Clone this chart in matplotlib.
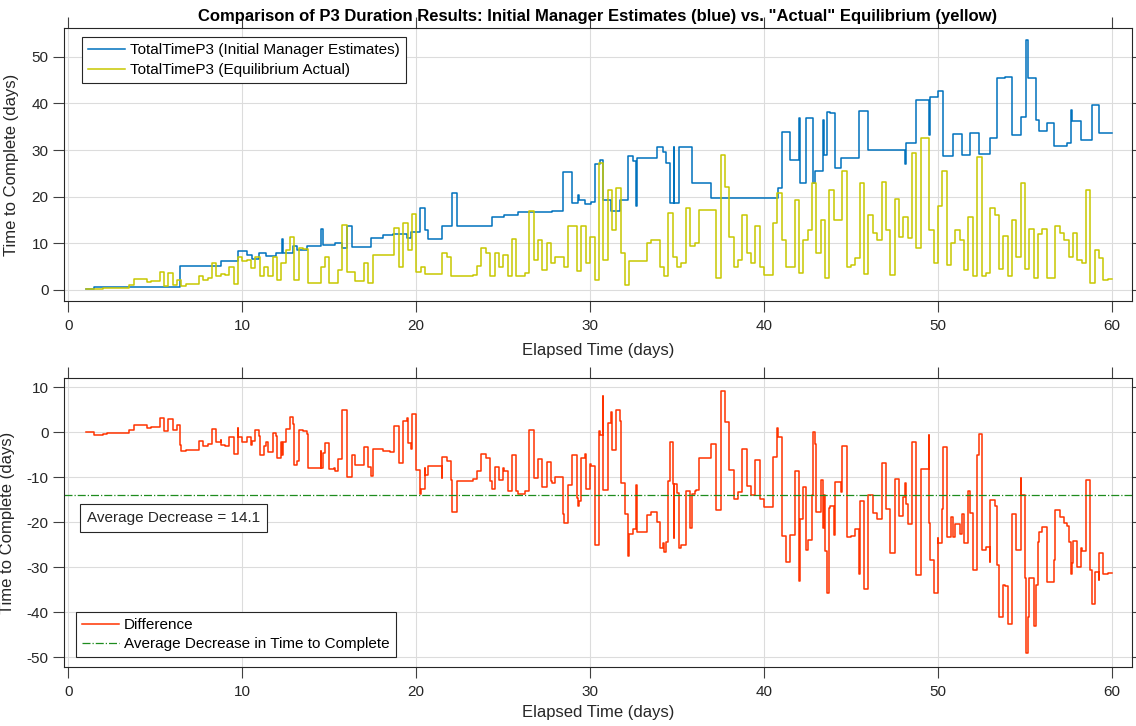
import numpy as np
import matplotlib
matplotlib.use("Agg")
import matplotlib.pyplot as plt

plt.rcParams['font.family'] = ['Liberation Sans', 'DejaVu Sans']
plt.rcParams['axes.unicode_minus'] = False

# ---- Data -------------------------------------------------------------
# Initial manager estimates (blue): step change times and values
blue_t = [1.0, 1.45, 6.4, 8.78, 9.77, 10.27, 10.56, 10.96, 11.36, 11.95, 12.31, 12.35,
          12.94, 13.14, 13.74, 14.53, 14.63, 15.32, 15.72, 16.02, 16.31, 17.40, 18.10,
          18.69, 19.48, 19.68, 20.24, 20.48, 20.67, 21.47, 22.06, 22.32, 24.34, 25.03,
          25.83, 26.52, 27.81, 28.44, 28.94, 29.30, 29.34, 29.73, 30.04, 30.25, 30.57,
          30.74, 31.21, 31.73, 32.16, 32.47, 32.66, 32.70, 33.85, 34.16, 34.38, 34.59,
          34.80, 34.83, 35.12, 35.86, 36.07, 36.96, 40.82, 41.04, 41.46, 41.99, 42.09,
          42.41, 42.83, 42.90, 43.36, 43.47, 43.64, 43.78, 44.06, 44.42, 45.48, 46.00,
          48.12, 48.16, 48.75, 49.49, 49.55, 50.02, 50.27, 50.87, 51.40, 51.82, 52.35,
          52.98, 53.40, 53.83, 54.25, 54.78, 55.03, 55.16, 55.62, 55.83, 56.26, 56.68,
          57.42, 57.63, 57.70, 58.22, 58.86, 59.26, 60.0]
blue_v = [0.2, 0.7, 5.1, 6.2, 8.3, 7.4, 6.7, 8.0, 7.3, 7.9, 10.9, 7.9,
          9.5, 8.6, 9.3, 13.0, 9.6, 10.1, 8.9, 13.8, 9.1, 11.2, 11.8,
          11.9, 11.1, 12.4, 17.6, 12.9, 11.0, 13.6, 20.7, 13.7, 15.6, 16.1,
          16.6, 16.6, 17.0, 25.3, 18.7, 20.4, 19.3, 18.4, 18.9, 27.1, 27.9,
          19.3, 16.9, 19.3, 28.7, 27.6, 17.9, 28.4, 30.7, 29.6, 27.3, 18.6,
          30.7, 18.6, 30.7, 23.0, 22.9, 19.8, 21.8, 33.9, 27.9, 36.8, 22.9,
          36.8, 22.9, 25.6, 36.4, 28.9, 38.2, 37.9, 26.1, 28.4, 38.4, 30.1,
          27.1, 31.6, 40.7, 33.2, 41.4, 42.6, 28.8, 33.4, 28.9, 33.6, 29.1,
          32.5, 45.5, 45.7, 33.2, 37.0, 53.6, 45.5, 36.4, 34.1, 35.9, 30.9,
          31.6, 38.7, 36.3, 32.1, 39.6, 33.6, 33.6]

# Equilibrium actual (yellow): values every quarter day from day 1 to day 60
yellow_start, yellow_step = 1.0, 0.25
yellow_v = [
    0.1, 0.1, 0.1, 0.1,      # day 1
    0.3, 0.4, 0.4, 0.4,      # day 2
    0.4, 0.4, 1.1, 2.3,      # day 3
    2.3, 2.3, 1.6, 1.8,      # day 4
    1.8, 3.9, 0.9, 3.6,      # day 5
    1.1, 2.2, 0.9, 1.2,      # day 6
    1.2, 1.2, 3.0, 2.1,      # day 7
    2.5, 5.7, 2.9, 3.4,      # day 8
    3.2, 5.0, 1.3, 7.1,      # day 9
    6.1, 6.3, 4.6, 7.1,      # day 10
    2.9, 5.0, 2.9, 7.1,      # day 11
    2.1, 5.7, 8.6, 11.3,     # day 12
    2.1, 9.0, 8.8, 1.4,      # day 13
    1.4, 1.4, 5.0, 7.1,      # day 14
    1.4, 1.5, 4.2, 13.9,     # day 15
    3.9, 3.9, 1.8, 1.8,      # day 16
    5.7, 1.4, 7.5, 7.5,      # day 17
    7.5, 7.5, 7.4, 13.2,     # day 18
    5.0, 14.3, 8.6, 16.3,    # day 19
    3.9, 5.0, 3.4, 3.4,      # day 20
    3.4, 3.4, 8.0, 7.1,      # day 21
    2.9, 2.9, 2.9, 2.9,      # day 22
    2.9, 3.2, 5.1, 8.9,      # day 23
    7.9, 2.9, 7.9, 5.0,      # day 24
    7.5, 2.9, 10.9, 2.9,     # day 25
    2.9, 3.6, 17.0, 6.4,     # day 26
    10.7, 4.3, 10.0, 5.7,    # day 27
    7.1, 7.1, 5.0, 13.6,     # day 28
    13.6, 4.0, 13.6, 5.7,    # day 29
    11.4, 2.1, 27.3, 6.4,    # day 30
    21.4, 12.9, 21.8, 7.9,   # day 31
    1.1, 6.1, 6.1, 6.1,      # day 32
    6.1, 10.0, 10.7, 10.7,   # day 33
    5.0, 2.9, 16.4, 7.1,     # day 34
    5.0, 5.7, 17.5, 9.3,     # day 35
    10.0, 17.1, 17.1, 17.1,  # day 36
    17.1, 2.5, 28.9, 22.1,   # day 37
    11.4, 5.0, 6.4, 16.1,    # day 38
    7.9, 5.7, 13.6, 5.0,     # day 39
    3.2, 3.2, 14.3, 20.7,    # day 40
    10.7, 5.0, 5.0, 19.3,    # day 41
    3.6, 10.7, 12.9, 22.9,   # day 42
    7.9, 15.0, 2.5, 21.4,    # day 43
    15.0, 15.0, 25.4, 5.0,   # day 44
    5.4, 6.8, 23.0, 3.5,     # day 45
    16.1, 12.1, 10.7, 23.2,  # day 46
    12.9, 3.2, 19.6, 11.4,   # day 47
    15.7, 11.1, 29.3, 8.9,   # day 48
    32.5, 32.5, 12.9, 5.7,   # day 49
    17.9, 25.4, 5.4, 10.0,   # day 50
    12.9, 10.7, 4.3, 15.7,   # day 51
    2.9, 28.6, 2.9, 3.6,     # day 52
    17.5, 16.0, 4.5, 11.5,   # day 53
    3.0, 15.0, 7.0, 23.0,    # day 54
    4.5, 13.0, 2.5, 12.0,    # day 55
    13.0, 2.5, 2.5, 13.6,    # day 56
    12.1, 10.7, 7.1, 12.1,   # day 57
    6.4, 5.7, 21.4, 1.4,     # day 58
    8.6, 6.8, 2.1, 2.3,      # day 59
    2.3,                     # day 60
]
avg_decrease = 14.1

# ---- Derived -------------------------------------------------------------
blue_t = np.array(blue_t)
blue_v = np.array(blue_v)
yellow_v = np.array(yellow_v)
yellow_t = yellow_start + yellow_step * np.arange(len(yellow_v))

t_all = np.union1d(blue_t, yellow_t)
b_all = blue_v[np.clip(np.searchsorted(blue_t, t_all, side='right') - 1, 0, None)]
y_all = yellow_v[np.clip(np.searchsorted(yellow_t, t_all, side='right') - 1, 0, None)]
diff = y_all - b_all

# ---- Figure -------------------------------------------------------------
W, H = 1136, 726
fig = plt.figure(figsize=(W / 100, H / 100), dpi=100)

def frac_axes(x0, y0, x1, y1):
    return fig.add_axes([x0 / W, 1 - y1 / H, (x1 - x0) / W, (y1 - y0) / H])

ax1 = frac_axes(64, 28, 1132, 301)
ax2 = frac_axes(64, 378, 1132, 667)

c_blue = '#0072BD'
c_yel = '#C8C800'
c_red = '#FF3300'
c_green = '#1E8C1E'
edge = '#262626'

for ax in (ax1, ax2):
    ax.set_xlim(-0.25, 61.15)
    ax.set_xticks(np.arange(0, 61, 10))
    ax.grid(True, color='#DCDCDC', linewidth=0.8)
    ax.set_axisbelow(True)
    ax.tick_params(direction='out', length=8, width=0.8, color='#404040',
                   top=True, right=True, labelsize=11, labelcolor='#262626')
    ax.tick_params(axis='x', pad=5)
    ax.tick_params(axis='y', pad=3)
    for s in ax.spines.values():
        s.set_color(edge)
        s.set_linewidth(0.8)

legend_kw = dict(borderaxespad=0, fancybox=False, framealpha=1, edgecolor=edge,
                 fontsize=11, handlelength=2.4, handletextpad=0.35,
                 borderpad=0.4, labelspacing=0.4)

# top panel
ax1.step(blue_t, blue_v, where='post', color=c_blue, lw=1.1,
         label='TotalTimeP3 (Initial Manager Estimates)')
ax1.step(yellow_t, yellow_v, where='post', color=c_yel, lw=1.1,
         label='TotalTimeP3 (Equilibrium Actual)')
ax1.set_ylim(-2.4, 56.2)
ax1.set_yticks(np.arange(0, 51, 10))
ax1.set_xlabel('Elapsed Time (days)', fontsize=12, color='#262626')
ax1.set_ylabel('Time to Complete (days)', fontsize=12, color='#262626')
ax1.xaxis.set_label_coords(0.5, -0.155)
ax1.yaxis.set_label_coords(-0.042, 0.5)
leg1 = ax1.legend(loc='upper left', bbox_to_anchor=(0.0169, 0.967), **legend_kw)
leg1.get_frame().set_linewidth(0.8)

# bottom panel
ax2.step(t_all, diff, where='post', color=c_red, lw=1.1, label='Difference')
ax2.axhline(-avg_decrease, color=c_green, lw=0.9, ls='-.',
            label='Average Decrease in Time to Complete')
ax2.set_ylim(-52.2, 12.0)
ax2.set_yticks(np.arange(-50, 11, 10))
ax2.set_xlabel('Elapsed Time (days)', fontsize=12, color='#262626')
ax2.set_ylabel('Time to Complete (days)', fontsize=12, color='#262626')
ax2.xaxis.set_label_coords(0.5, -0.133)
ax2.yaxis.set_label_coords(-0.046, 0.5)
leg2 = ax2.legend(loc='lower left', bbox_to_anchor=(0.0112, 0.0346),
                  **dict(legend_kw, labelspacing=0.3))
leg2.get_frame().set_linewidth(0.8)

ax2.text(0.0215, 0.516, 'Average Decrease = %.1f' % avg_decrease, transform=ax2.transAxes,
         ha='left', va='center', fontsize=11, color='#262626',
         bbox=dict(boxstyle='square,pad=0.45', facecolor='white', edgecolor=edge, linewidth=0.8))

fig.text(598 / W, 1 - 16 / H,
         'Comparison of P3 Duration Results: Initial Manager Estimates (blue) vs. "Actual" Equilibrium (yellow)',
         ha='center', va='center', fontsize=12, fontweight='bold', color='black')

fig.savefig('out.png', dpi=100)
